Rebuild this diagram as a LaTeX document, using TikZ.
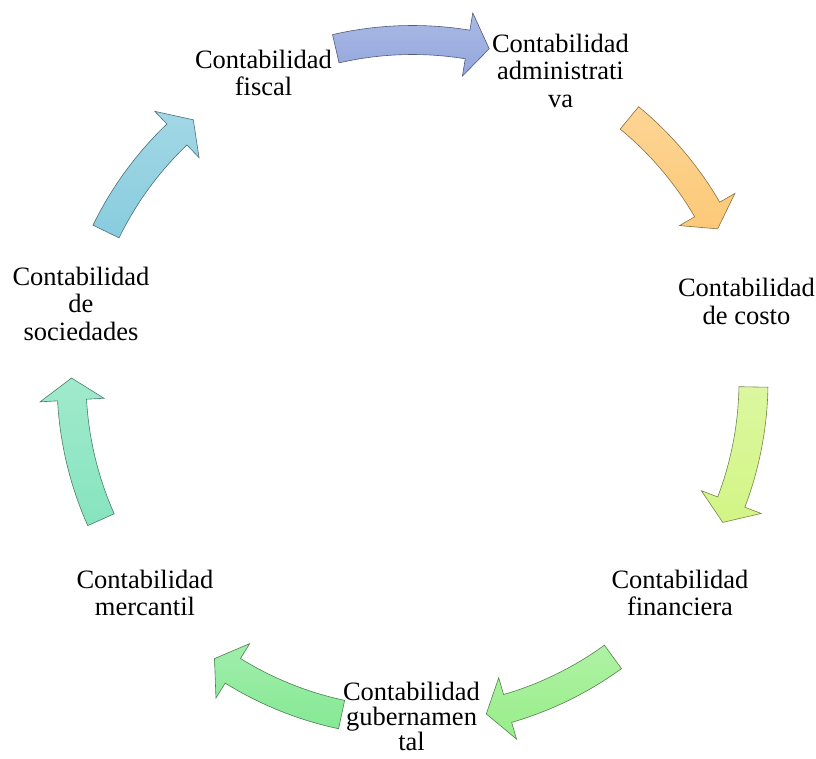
\documentclass[tikz,border=0pt]{standalone}
\usepackage{fontspec}
\setmainfont{Liberation Serif}
\definecolor{cA}{HTML}{93A6DD}
\definecolor{cB}{HTML}{FCC977}
\definecolor{cC}{HTML}{D2F585}
\definecolor{cD}{HTML}{98EE8A}
\definecolor{cE}{HTML}{86E994}
\definecolor{cF}{HTML}{86E4BE}
\definecolor{cG}{HTML}{88CCDE}
\tikzset{
  lbl/.style={font=\fontsize{26.5}{27.5}\selectfont, align=center, anchor=base, inner sep=0pt},
  lblt/.style={font=\fontsize{26.5}{25}\selectfont, align=center, anchor=base, inner sep=0pt},
  arr/.style={draw=#1!55!black, line width=0.6pt, top color=#1!78!white, bottom color=#1}
}
\newcommand\cycarrow[3]{%
  \pgfmathsetmacro\hb{#2+3.7}%
  \path[arr=#3] (#1:355.5pt) arc[start angle=#1, end angle=\hb, radius=355.5pt]
     -- (\hb:373pt) -- (#2:341pt) -- (\hb:309pt) -- (\hb:326.5pt)
     arc[start angle=\hb, end angle=#1, radius=326.5pt] -- cycle;
}
\begin{document}
\begin{tikzpicture}
\useasboundingbox (0pt,0pt) rectangle (816pt,-758pt);
\begin{scope}[shift={(412.5pt,-381pt)}]
  \cycarrow{103}{77}{cA}
  \cycarrow{50.5}{26.5}{cB}
  \cycarrow{-1}{-24.5}{cC}
  \cycarrow{-54}{-77.5}{cD}
  \cycarrow{-102}{-125.5}{cE}
  \cycarrow{204}{179.5}{cF}
  \cycarrow{154}{130}{cG}
\end{scope}
\node[lbl] (n1) at (263.5pt,-95.5pt) {Contabilidad\\fiscal};
\node[lbl] (n2) at (560.5pt,-107pt) {Contabilidad\\administrati\\va};
\node[lbl] (n3) at (746.5pt,-324pt) {Contabilidad\\de costo};
\node[lbl] (n4) at (680pt,-615.5pt) {Contabilidad\\financiera};
\node[lblt] (n5) at (411.5pt,-750pt) {Contabilidad\\gubernamen\\tal};
\node[lbl] (n6) at (145pt,-615.5pt) {Contabilidad\\mercantil};
\node[lbl] (n7) at (81pt,-340pt) {Contabilidad\\de\\sociedades};
\end{tikzpicture}
\end{document}
